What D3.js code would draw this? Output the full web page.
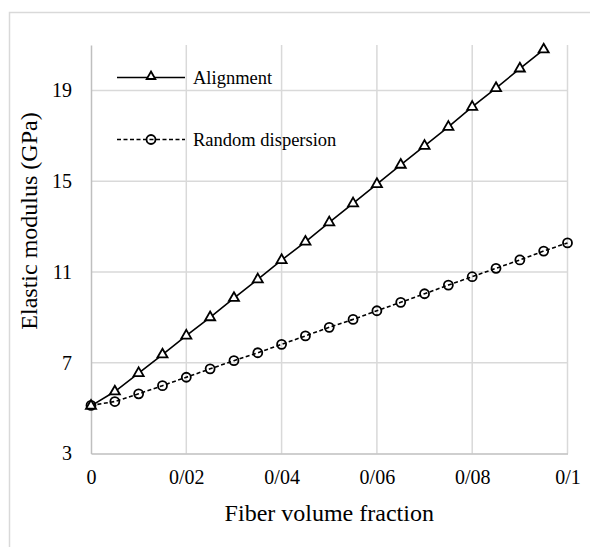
<!DOCTYPE html>
<html>
<head>
<meta charset="utf-8">
<script src="https://cdn.jsdelivr.net/npm/d3@7"></script>
<style>
  html, body { margin: 0; padding: 0; background: #fff; }
  svg { display: block; }
</style>
</head>
<body>
<svg id="chart" width="590" height="547"></svg>
<script>
// Fiber volume fraction (x) and elastic modulus in GPa (y)
const fractions = [0, 0.005, 0.01, 0.015, 0.02, 0.025, 0.03, 0.035, 0.04, 0.045,
                   0.05, 0.055, 0.06, 0.065, 0.07, 0.075, 0.08, 0.085, 0.09, 0.095, 0.1];
const alignment = [5.10, 5.73, 6.54, 7.36, 8.19, 9.00, 9.85, 10.67, 11.52, 12.33,
                   13.18, 14.02, 14.87, 15.72, 16.55, 17.39, 18.27, 19.10, 19.96, 20.80];
const randomDispersion = [5.12, 5.29, 5.63, 5.99, 6.36, 6.73, 7.09, 7.44, 7.81, 8.18,
                          8.56, 8.91, 9.29, 9.66, 10.04, 10.42, 10.79, 11.16, 11.53, 11.92, 12.28];
const xTicks = [0, 0.02, 0.04, 0.06, 0.08, 0.1];
const xTickLabels = ["0", "0/02", "0/04", "0/06", "0/08", "0/1"];
const yTicks = [3, 7, 11, 15, 19];
const seriesNames = ["Alignment", "Random dispersion"];

const FONT = "'Liberation Serif', 'Times New Roman', Times, 'DejaVu Serif', serif";

const svg = d3.select("#chart");
const plot = { left: 91, right: 567.5, top: 45, bottom: 453.5 };

const x = d3.scaleLinear().domain([0, 0.1]).range([plot.left, plot.right]);
const y = d3.scaleLinear().domain([3, 21]).range([plot.bottom, plot.top]);

// chart area frame
svg.append("path")
  .attr("d", "M9.5,547 V12.5 H590")
  .attr("fill", "none")
  .attr("stroke", "#d9d9d9")
  .attr("stroke-width", 1.5);

// gridlines
const grid = svg.append("g");
grid.selectAll("line.v").data(xTicks.slice(1)).join("line")
  .attr("x1", d => x(d)).attr("x2", d => x(d))
  .attr("y1", plot.top).attr("y2", plot.bottom)
  .attr("stroke", "#d9d9d9").attr("stroke-width", 1.5);
grid.selectAll("line.h").data(yTicks.slice(1)).join("line")
  .attr("x1", plot.left).attr("x2", plot.right)
  .attr("y1", d => y(d)).attr("y2", d => y(d))
  .attr("stroke", "#d9d9d9").attr("stroke-width", 1.5);

// axes
const xAxis = d3.axisBottom(x).tickValues(xTicks)
  .tickFormat((d, i) => xTickLabels[i]).tickSize(0).tickPadding(16);
const gx = svg.append("g").attr("transform", `translate(0,${plot.bottom})`).call(xAxis);
gx.attr("font-family", FONT).attr("font-size", 20);
gx.select(".domain").attr("stroke", "#bfbfbf").attr("stroke-width", 1.5);
gx.selectAll("text").attr("fill", "#000");

const yAxis = d3.axisLeft(y).tickValues(yTicks).tickSize(0).tickPadding(19);
const gy = svg.append("g").attr("transform", `translate(${plot.left},0)`).call(yAxis);
gy.attr("font-family", FONT).attr("font-size", 20);
gy.select(".domain").attr("stroke", "#bfbfbf").attr("stroke-width", 1.5);
gy.selectAll("text").attr("fill", "#000");

// axis titles
svg.append("text")
  .attr("x", (plot.left + plot.right) / 2).attr("y", 521)
  .attr("text-anchor", "middle")
  .attr("font-family", FONT).attr("font-size", 24)
  .text("Fiber volume fraction");
svg.append("text")
  .attr("transform", "translate(37,221) rotate(-90)")
  .attr("text-anchor", "middle")
  .attr("font-family", FONT).attr("font-size", 24)
  .text("Elastic modulus (GPa)");

// series
const triangle = d3.symbol().type(d3.symbolTriangle).size(44);
const lineGen = d3.line().x(d => x(d[0])).y(d => y(d[1]));

const alignPts = alignment.map((v, i) => [fractions[i], v]);
const randPts = randomDispersion.map((v, i) => [fractions[i], v]);

svg.append("path").datum(randPts)
  .attr("d", lineGen).attr("fill", "none")
  .attr("stroke", "#000").attr("stroke-width", 1.6)
  .attr("stroke-dasharray", "4,2.5");
svg.append("g").selectAll("circle").data(randPts).join("circle")
  .attr("cx", d => x(d[0])).attr("cy", d => y(d[1])).attr("r", 4.5)
  .attr("fill", "none").attr("stroke", "#000").attr("stroke-width", 1.8);

svg.append("path").datum(alignPts)
  .attr("d", lineGen).attr("fill", "none")
  .attr("stroke", "#000").attr("stroke-width", 1.6);
svg.append("g").selectAll("path").data(alignPts).join("path")
  .attr("d", triangle)
  .attr("transform", d => `translate(${x(d[0])},${y(d[1])})`)
  .attr("fill", "#fff").attr("stroke", "#000").attr("stroke-width", 1.8);

// legend
const legend = svg.append("g");
const legendRows = [
  { name: seriesNames[0], y: 77.5, dash: null, marker: "triangle" },
  { name: seriesNames[1], y: 139.5, dash: "4,2.5", marker: "circle" }
];
legendRows.forEach(r => {
  legend.append("line")
    .attr("x1", 117).attr("x2", 185).attr("y1", r.y).attr("y2", r.y)
    .attr("stroke", "#000").attr("stroke-width", 1.6)
    .attr("stroke-dasharray", r.dash);
  if (r.marker === "triangle") {
    legend.append("path").attr("d", d3.symbol().type(d3.symbolTriangle).size(32))
      .attr("transform", `translate(151,${r.y - 1})`)
      .attr("fill", "#fff").attr("stroke", "#000").attr("stroke-width", 1.8);
  } else {
    legend.append("circle").attr("cx", 151).attr("cy", r.y).attr("r", 4.5)
      .attr("fill", "none").attr("stroke", "#000").attr("stroke-width", 1.8);
  }
  legend.append("text").attr("x", 193).attr("y", r.y + 6)
    .attr("font-family", FONT).attr("font-size", 18.5).text(r.name);
});
</script>
</body>
</html>
